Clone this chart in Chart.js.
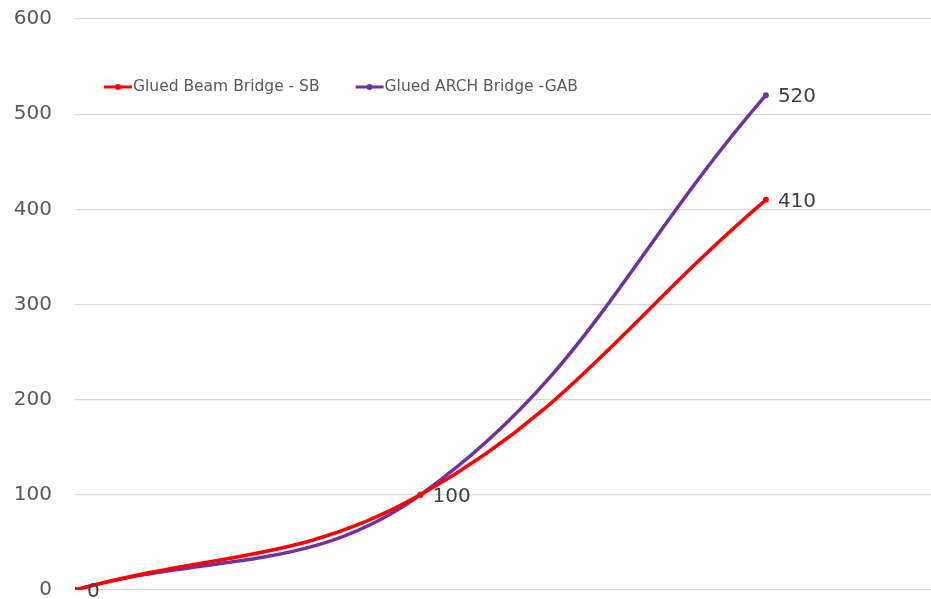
<!DOCTYPE html>
<html>
<head>
    <meta charset="UTF-8">
    <title>Glued bridges</title>
    <script src="https://cdn.jsdelivr.net/npm/chart.js@4"></script>
    <style>
        html, body {
            margin: 0;
            padding: 0;
            background: #fff;
            overflow: hidden;
        }
    </style>
</head>
<body>
<canvas id="chart" width="931" height="599"></canvas>

<script>
    // data
    const steps = [0, 1, 2];
    const beamValues = [0, 100, 410];
    const archValues = [0, 100, 520];
    const seriesNames = ["Glued Beam Bridge - SB", "Glued ARCH Bridge -GAB"];
    const yTicks = [0, 100, 200, 300, 400, 500, 600];

    const RED = "#FF0000";
    const PURPLE = "#7030A0";
    const FONT = "'DejaVu Sans', sans-serif";

    function toPoints(values) {
        return steps.map((s, i) => ({x: s, y: values[i]}));
    }

    // value labels next to the points (only one per shared value)
    const pointLabels = {
        id: "pointLabels",
        afterDatasetsDraw(chart) {
            const ctx = chart.ctx;
            ctx.save();
            ctx.font = "20px " + FONT;
            ctx.fillStyle = "#404040";
            ctx.textBaseline = "middle";
            ctx.textAlign = "left";
            const shown = {};
            chart.data.datasets.forEach((ds, di) => {
                const meta = chart.getDatasetMeta(di);
                meta.data.forEach((pt, i) => {
                    const v = ds.data[i].y;
                    if (shown[i + ":" + v]) return;
                    shown[i + ":" + v] = true;
                    ctx.fillText(String(v), pt.x + 12, pt.y + 2);
                });
            });
            ctx.restore();
        }
    };

    // legend sitting inside the plot, top left
    const insideLegend = {
        id: "insideLegend",
        afterDraw(chart) {
            const ctx = chart.ctx;
            ctx.save();
            ctx.font = "15.5px " + FONT;
            ctx.textBaseline = "middle";
            const y = 87;
            let x = 104;
            chart.data.datasets.forEach(ds => {
                ctx.strokeStyle = ds.borderColor;
                ctx.lineWidth = 3;
                ctx.beginPath();
                ctx.moveTo(x, y);
                ctx.lineTo(x + 28, y);
                ctx.stroke();
                ctx.fillStyle = ds.borderColor;
                ctx.beginPath();
                ctx.arc(x + 14, y, 3, 0, Math.PI * 2);
                ctx.fill();
                ctx.fillStyle = "#595959";
                ctx.fillText(ds.label, x + 29, y);
                x += 29 + ctx.measureText(ds.label).width + 36;
            });
            ctx.restore();
        }
    };

    new Chart(document.getElementById("chart"), {
        type: "line",
        data: {
            datasets: [
                {
                    label: seriesNames[0],
                    data: toPoints(beamValues),
                    borderColor: RED,
                    backgroundColor: RED,
                    borderWidth: 3.5,
                    pointRadius: 3,
                    pointBackgroundColor: RED,
                    pointBorderWidth: 0,
                    tension: 0.4,
                    fill: false
                },
                {
                    label: seriesNames[1],
                    data: toPoints(archValues),
                    borderColor: PURPLE,
                    backgroundColor: PURPLE,
                    borderWidth: 3.5,
                    pointRadius: 3,
                    pointBackgroundColor: PURPLE,
                    pointBorderWidth: 0,
                    tension: 0.4,
                    fill: false
                }
            ]
        },
        options: {
            responsive: false,
            animation: false,
            layout: {padding: 0, autoPadding: false},
            plugins: {
                legend: {display: false},
                tooltip: {enabled: false}
            },
            scales: {
                x: {
                    type: "linear",
                    display: false,
                    min: 0,
                    max: 2.478
                },
                y: {
                    min: 0,
                    max: 600,
                    afterBuildTicks(axis) {
                        axis.ticks = yTicks.map(v => ({value: v}));
                    },
                    afterFit(axis) {
                        axis.width = 75;
                        axis.paddingTop = 19;
                        axis.paddingBottom = 9;
                    },
                    border: {display: false},
                    grid: {color: "#d9d9d9", lineWidth: 1.2, drawTicks: false},
                    ticks: {
                        color: "#595959",
                        padding: 23,
                        font: {family: FONT, size: 20, lineHeight: 1}
                    }
                }
            }
        },
        plugins: [pointLabels, insideLegend]
    });
</script>
</body>
</html>
